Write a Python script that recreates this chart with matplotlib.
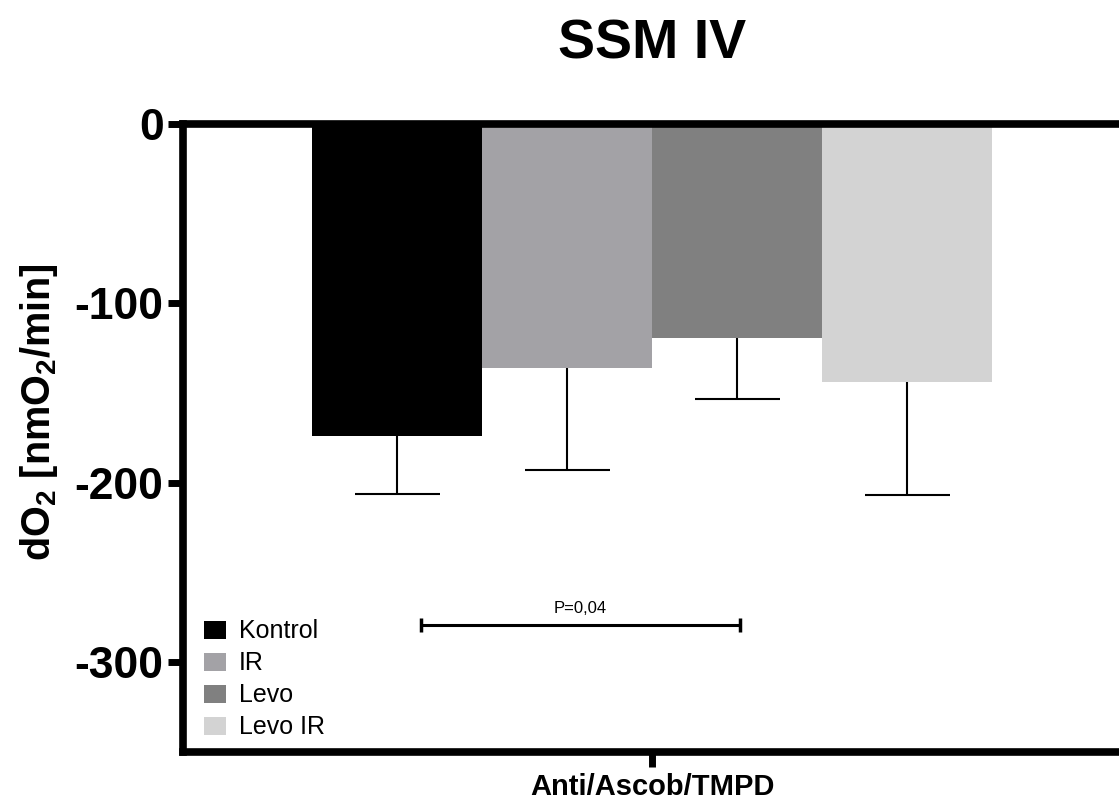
import numpy as np
import matplotlib
matplotlib.use("Agg")
import matplotlib.pyplot as plt

# Daten
gruppen = ['Kontrol', 'IR', 'Levo', 'Levo IR']
mittelwerte = [-174, -136, -119.5, -144]
fehler = [32, 57, 33.5, 63]
farben = ['#000000', '#a3a2a6', '#808080', '#d3d3d3']
kategorie = 'Anti/Ascob/TMPD'
p_text = 'P=0,04'
p_hoehe = -279
p_enden = [-1.36, 0.52]

plt.rcParams['font.family'] = ['Liberation Sans', 'DejaVu Sans']
plt.rcParams['mathtext.fontset'] = 'custom'
plt.rcParams['mathtext.bf'] = 'Liberation Sans:bold'
plt.rcParams['mathtext.rm'] = 'Liberation Sans:bold'
plt.rcParams['mathtext.default'] = 'bf'

fig = plt.figure(figsize=(11.19, 8.02), dpi=100)
ax = fig.add_axes([183 / 1119, 1 - 752 / 802, 938 / 1119, 628 / 802])

x = np.arange(len(gruppen)) - (len(gruppen) - 1) / 2
for xi, m, e, f, g in zip(x, mittelwerte, fehler, farben, gruppen):
    ax.bar(xi, m, width=1.0, color=f, label=g, zorder=2)
    eb = ax.errorbar(xi, m, yerr=[[e], [0]], fmt='none', ecolor='black',
                     elinewidth=1.5, capsize=30.6, capthick=1.5, zorder=1)
    # nur die untere Kappe zeigen
    eb[1][1].set_visible(False)

# Signifikanz-Klammer
ax.errorbar(np.mean(p_enden), p_hoehe, xerr=(p_enden[1] - p_enden[0]) / 2,
            fmt='none', ecolor='black', elinewidth=2.2, capsize=5, capthick=2.5)
ax.text(np.mean(p_enden), p_hoehe + 5, p_text, ha='center', va='bottom', fontsize=12)

ax.set_xlim(-2.759, 2.759)
ax.set_ylim(-350, 0)
ax.set_yticks([0, -100, -200, -300])
ax.set_yticklabels(['0', '-100', '-200', '-300'], fontsize=32, fontweight='bold')
ax.set_xticks([0])
ax.set_xticklabels([kategorie], fontsize=21, fontweight='bold')
ax.tick_params(axis='y', length=11, width=5, pad=3)
ax.tick_params(axis='x', length=11, width=5, pad=4)

for s in ['left', 'bottom', 'top']:
    ax.spines[s].set_linewidth(5.5)
ax.spines['right'].set_visible(False)

ax.set_ylabel(r'dO$_2$ [nmO$_2$/min]', fontsize=28.5, fontweight='bold')
ax.yaxis.set_label_coords(-0.131, 0.541)
ax.set_title('SSM IV', fontsize=40, fontweight='bold', pad=47)

ax.legend(loc='lower left', bbox_to_anchor=(0.022, 0.02), frameon=False,
          fontsize=18, handlelength=0.88, handleheight=0.72,
          handletextpad=0.52, labelspacing=0.32, borderpad=0, borderaxespad=0)

fig.savefig('out.png', dpi=100)
